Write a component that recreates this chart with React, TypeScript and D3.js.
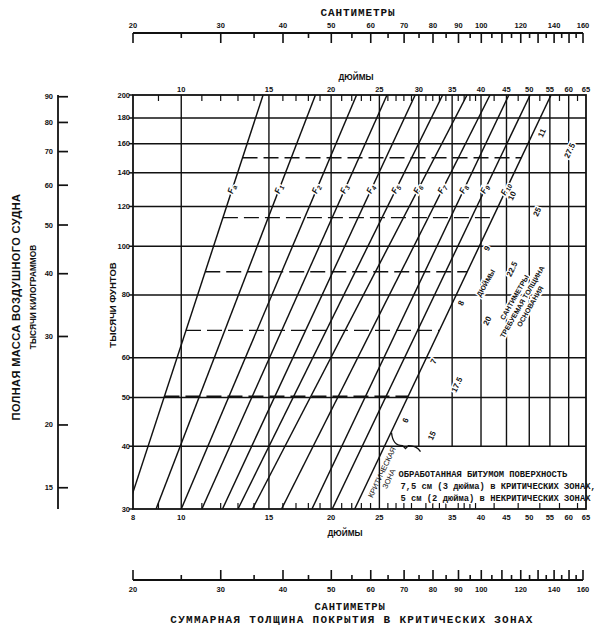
import React from "react";
import * as d3 from "d3";

// ---- data ----
const poundTicks = [30, 40, 50, 60, 80, 100, 120, 140, 160, 180, 200];
const kgTicks = [15, 20, 30, 40, 50, 60, 70, 80, 90];
const inchTicks = [8, 10, 15, 20, 25, 30, 35, 40, 45, 50, 55, 60, 65];
const inchMinorTicks = [9, 11, 12, 13, 14, 16, 17, 18, 19, 21, 22, 23, 24, 26, 27, 28, 29, 31, 32, 33, 34, 36, 37, 38, 39, 42.5, 47.5, 52.5, 57.5, 62.5];
const cmLabels = [20, 30, 40, 50, 60, 70, 80, 90, 100, 120, 140, 160];
const cmTicks = [20, 25, 30, 35, 40, 45, 50, 55, 60, 65, 70, 75, 80, 85, 90, 95, 100, 105, 110, 115, 120, 125, 130, 135, 140, 145, 150, 155, 160];
const fullGridInches = [10, 15, 20, 25];
const partGridInches = [30, 35, 40, 45, 50, 55, 60];
const curveNames = ["a", "1", "2", "3", "4", "5", "6", "7", "8", "9", "10"];
const curveTopInches = [14.6, 18.6, 22.5, 25.9, 29.5, 33.5, 37.5, 41.7, 45.5, 50.2, 55.3];
const curveBottomInches = [7.8, 8.9, 10.0, 11.0, 12.1, 13.0, 13.9, 15.9, 18.3, 20.1, 22.3];
const curveLabelWeight = 130;
const dashedWeights = [150, 114, 89, 68, 50.3];
const baseInchLabels = ["11", "10", "9", "8", "7", "6"];
const baseInchWeights = [168, 126, 99, 77, 59, 45];
const baseCmLabels = ["27.5", "25", "22.5", "20", "17.5", "15"];
const baseCmInches = [60.3, 51.9, 46.2, 41.2, 35.8, 31.9];
const baseCmWeights = [155, 117, 90, 71, 53, 42];
const noteLines = [
  "ОБРАБОТАННАЯ БИТУМОМ ПОВЕРХНОСТЬ",
  "7,5 см (3 дюйма) в КРИТИЧЕСКИХ ЗОНАХ,",
  "5 см (2 дюйма) в НЕКРИТИЧЕСКИХ ЗОНАХ",
];
const baseTitleLines = ["САНТИМЕТРЫ", "ТРЕБУЕМАЯ ТОЛЩИНА", "ОСНОВАНИЯ"];

const LB_PER_KG = 2.20462;
const INK = "#111";
const SANS = "'Liberation Sans', Arial, sans-serif";
const MONO = "'Liberation Mono', 'DejaVu Sans Mono', monospace";

export default function App() {
  const W = 601, H = 629;
  const left = 133, right = 586, top = 95, bottom = 509;
  const x = d3.scaleLog().domain([8, 65]).range([left, right]);
  const y = d3.scaleLog().domain([30, 200]).range([bottom, top]);
  const cmTop = d3.scaleLog().domain([20, 160]).range([133, 583]);
  const cmBot = d3.scaleLog().domain([20, 160]).range([133, 583]);

  const curveAt = (i: number, lb: number) => {
    const t = Math.log(lb / 30) / Math.log(200 / 30);
    return Math.exp(Math.log(curveBottomInches[i]) + t * (Math.log(curveTopInches[i]) - Math.log(curveBottomInches[i])));
  };
  const angleOf = (i: number) => {
    const dx = x(curveTopInches[i]) - x(curveBottomInches[i]);
    const dy = y(200) - y(30);
    return (Math.atan2(dy, dx) * 180) / Math.PI;
  };
  const lastCurve = curveNames.length - 1;
  const a10 = angleOf(lastCurve);

  const halo = { stroke: "#fff", strokeWidth: 3, paintOrder: "stroke" as const };

  const topCmY = 33;
  const botCmY = 580;

  const bx = x(curveAt(lastCurve, 42)), by = y(42);
  const brace = d3.path();
  brace.moveTo(bx + 2, by - 3);
  brace.bezierCurveTo(bx + 3, by + 6, bx + 6, by + 10, bx + 13, by + 10);
  brace.lineTo(bx + 16, by + 13);
  brace.lineTo(bx + 19, by + 10);
  brace.bezierCurveTo(bx + 24, by + 10, bx + 28, by + 11, bx + 31, by + 16);

  return (
    <svg width={W} height={H} style={{ position: "absolute", left: 0, top: 0, background: "#fff" }} xmlns="http://www.w3.org/2000/svg">
      <rect x={0} y={0} width={W} height={H} fill="#fff" />
      <defs>
        <clipPath id="plotClip">
          <rect x={left} y={top} width={right - left} height={bottom - top} />
        </clipPath>
      </defs>

      {/* ---- top centimetre scale ---- */}
      <text x={358} y={16} textAnchor="middle" fontFamily={MONO} fontWeight="bold" fontSize={11} letterSpacing={0.9} fill={INK}>САНТИМЕТРЫ</text>
      <line x1={cmTop(20)} x2={cmTop(160)} y1={topCmY} y2={topCmY} stroke={INK} strokeWidth={1.8} />
      {cmTicks.map((v) => (
        <line key={"ct" + v} x1={cmTop(v)} x2={cmTop(v)} y1={topCmY} y2={topCmY + (v % 10 === 0 ? 10 : 5)} stroke={INK} strokeWidth={1.6} />
      ))}
      {cmLabels.map((v) => (
        <text key={"cl" + v} x={cmTop(v)} y={topCmY - 5} textAnchor="middle" fontFamily={SANS} fontWeight="bold" fontSize={7.5} fill={INK}>{v}</text>
      ))}

      {/* ---- inch axis titles and labels ---- */}
      <text x={356} y={80} textAnchor="middle" fontFamily={SANS} fontWeight="bold" fontSize={8.2} fill={INK}>ДЮЙМЫ</text>
      {inchTicks.filter((v) => v !== 8).map((v) => (
        <text key={"it" + v} x={x(v)} y={top - 3} textAnchor="middle" fontFamily={SANS} fontWeight="bold" fontSize={7.5} fill={INK}>{v}</text>
      ))}
      {inchTicks.map((v) => (
        <text key={"ib" + v} x={x(v)} y={bottom + 11} textAnchor="middle" fontFamily={SANS} fontWeight="bold" fontSize={7.5} fill={INK}>{v}</text>
      ))}
      <text x={345} y={536} textAnchor="middle" fontFamily={SANS} fontWeight="bold" fontSize={8.2} fill={INK}>ДЮЙМЫ</text>

      {/* ---- grid ---- */}
      {poundTicks.filter((v) => v !== 30 && v !== 200).map((v) => (
        <line key={"h" + v} x1={left} x2={right} y1={y(v)} y2={y(v)} stroke={INK} strokeWidth={1.5} />
      ))}
      {fullGridInches.map((v) => (
        <line key={"vf" + v} x1={x(v)} x2={x(v)} y1={top} y2={bottom} stroke={INK} strokeWidth={1.4} />
      ))}
      {partGridInches.map((v) => (
        <line key={"vp" + v} x1={x(v)} x2={x(v)} y1={top} y2={y(40)} stroke={INK} strokeWidth={1.4} />
      ))}
      {inchMinorTicks.map((v) => (
        <g key={"mt" + v}>
          <line x1={x(v)} x2={x(v)} y1={top} y2={top + 6} stroke={INK} strokeWidth={1.2} />
          <line x1={x(v)} x2={x(v)} y1={bottom} y2={bottom - 6} stroke={INK} strokeWidth={1.2} />
        </g>
      ))}

      {/* ---- dashed weight lines ---- */}
      {dashedWeights.map((w) => (
        <line key={"d" + w} x1={x(curveAt(0, w))} x2={x(curveAt(lastCurve, w))} y1={y(w)} y2={y(w)} stroke={INK} strokeWidth={1.4} strokeDasharray="15,6" />
      ))}

      {/* ---- subgrade curves ---- */}
      <g clipPath="url(#plotClip)">
        {curveNames.map((n, i) => (
          <line key={"c" + n} x1={x(curveBottomInches[i])} y1={y(30)} x2={x(curveTopInches[i])} y2={y(200)} stroke={INK} strokeWidth={1.45} />
        ))}
      </g>
      {curveNames.map((n, i) => (
        <text key={"cn" + n} transform={`translate(${x(curveAt(i, curveLabelWeight)) - 1},${y(curveLabelWeight)}) rotate(${angleOf(i)})`}
          textAnchor="middle" dominantBaseline="central" fontFamily={SANS} fontWeight="bold" fontStyle="italic" fontSize={8.5} fill={INK} {...halo}>
          F<tspan fontSize={6.5} dy={2}>{n}</tspan>
        </text>
      ))}

      {/* ---- base thickness labels ---- */}
      {baseInchLabels.map((s, i) => (
        <text key={"bi" + s} transform={`translate(${x(curveAt(lastCurve, baseInchWeights[i])) + 9},${y(baseInchWeights[i])}) rotate(${a10})`}
          textAnchor="middle" dominantBaseline="central" fontFamily={SANS} fontWeight="bold" fontSize={8} fill={INK} {...halo}>{s}</text>
      ))}
      {baseCmLabels.map((s, i) => (
        <text key={"bc" + s} transform={`translate(${x(baseCmInches[i])},${y(baseCmWeights[i])}) rotate(${a10})`}
          textAnchor="middle" dominantBaseline="central" fontFamily={SANS} fontWeight="bold" fontSize={8} fill={INK} {...halo}>{s}</text>
      ))}
      <text transform={`translate(${x(40.9)},${y(84.5)}) rotate(-60)`} textAnchor="middle" dominantBaseline="central"
        fontFamily={SANS} fontWeight="bold" fontSize={7} fill={INK} {...halo}>ДЮЙМЫ</text>
      <g transform={`translate(${x(48.4)},${y(77.5)}) rotate(-60)`}>
        {baseTitleLines.map((s, i) => (
          <text key={"bt" + i} x={0} y={(i - 1) * 9} textAnchor="middle" dominantBaseline="central"
            fontFamily={SANS} fontWeight="bold" fontSize={7} fill={INK} {...halo}>{s}</text>
        ))}
      </g>
      <path d={brace.toString()} fill="none" stroke={INK} strokeWidth={1.3} />

      {/* critical zone */}
      <g transform={`translate(${x(curveAt(lastCurve, 35.5)) + 10},${y(35.5)}) rotate(${a10})`}>
        <text x={0} y={0} textAnchor="middle" dominantBaseline="central" fontFamily={SANS} fontSize={7.5} fill={INK}>КРИТИЧЕСКАЯ</text>
        <text x={-3} y={9} textAnchor="middle" dominantBaseline="central" fontFamily={SANS} fontSize={7.5} fill={INK}>ЗОНА</text>
      </g>

      {/* note */}
      {noteLines.map((s, i) => (
        <text key={"n" + i} x={x(27.3) + (i === 0 ? 0 : 2)} y={y(40) + 31 + i * 12} fontFamily={MONO} fontWeight="bold" fontSize={8.8} fill={INK} {...halo} strokeWidth={2}>{s}</text>
      ))}

      {/* ---- plot frame ---- */}
      <rect x={left} y={top} width={right - left} height={bottom - top} fill="none" stroke={INK} strokeWidth={1.8} />

      {/* ---- pounds axis ---- */}
      {poundTicks.map((v) => (
        <g key={"p" + v}>
          <line x1={left - 4} x2={left} y1={y(v)} y2={y(v)} stroke={INK} strokeWidth={1.5} />
          <text x={left - 3} y={y(v) + 2.5} textAnchor="end" fontFamily={SANS} fontWeight="bold" fontSize={7.5} fill={INK}>{v}</text>
        </g>
      ))}
      <text transform={`translate(115.5,305) rotate(-90)`} textAnchor="middle" fontFamily={SANS} fontWeight="bold" fontSize={9.5} fill={INK}>ТЫСЯЧИ ФУНТОВ</text>

      {/* ---- kilogram axis ---- */}
      <line x1={58} x2={58} y1={top} y2={bottom} stroke={INK} strokeWidth={1.8} />
      {kgTicks.map((v) => (
        <g key={"k" + v}>
          <line x1={58} x2={68} y1={y(v * LB_PER_KG)} y2={y(v * LB_PER_KG)} stroke={INK} strokeWidth={1.7} />
          <text x={53} y={y(v * LB_PER_KG) + 2.5} textAnchor="end" fontFamily={SANS} fontWeight="bold" fontSize={7.5} fill={INK}>{v}</text>
        </g>
      ))}
      <text transform={`translate(20,307) rotate(-90)`} textAnchor="middle" fontFamily={SANS} fontWeight="bold" fontSize={11} letterSpacing={0.4} fill={INK}>ПОЛНАЯ МАССА ВОЗДУШНОГО СУДНА</text>
      <text transform={`translate(36,297) rotate(-90)`} textAnchor="middle" fontFamily={SANS} fontWeight="bold" fontSize={8.3} fill={INK}>ТЫСЯЧИ КИЛОГРАММОВ</text>

      {/* ---- bottom centimetre scale ---- */}
      <line x1={cmBot(20)} x2={cmBot(160)} y1={botCmY} y2={botCmY} stroke={INK} strokeWidth={1.8} />
      {cmTicks.map((v) => (
        <line key={"cb" + v} x1={cmBot(v)} x2={cmBot(v)} y1={botCmY} y2={botCmY - (v % 10 === 0 ? 10 : 5)} stroke={INK} strokeWidth={1.6} />
      ))}
      {cmLabels.map((v) => (
        <text key={"cbl" + v} x={cmBot(v)} y={botCmY + 12} textAnchor="middle" fontFamily={SANS} fontWeight="bold" fontSize={7.5} fill={INK}>{v}</text>
      ))}
      <text x={350} y={610} textAnchor="middle" fontFamily={MONO} fontWeight="bold" fontSize={10.5} letterSpacing={0.8} fill={INK}>САНТИМЕТРЫ</text>
      <text x={352} y={623} textAnchor="middle" fontFamily={MONO} fontWeight="bold" fontSize={11} letterSpacing={1.3} fill={INK}>СУММАРНАЯ ТОЛЩИНА ПОКРЫТИЯ В КРИТИЧЕСКИХ ЗОНАХ</text>
    </svg>
  );
}
